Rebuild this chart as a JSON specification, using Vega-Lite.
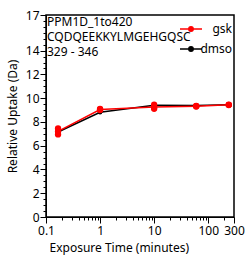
{
  "$schema": "https://vega.github.io/schema/vega-lite/v6.json",
  "autosize": {"type": "none"},
  "width": 188,
  "height": 202,
  "padding": {"left": 46, "top": 15, "right": 11, "bottom": 38},
  "background": "white",
  "config": {
    "font": "Noto Sans",
    "view": {"stroke": "black", "strokeWidth": 1.5},
    "axis": {"labelFont": "Noto Sans", "titleFont": "Noto Sans", "labelFontSize": 12, "titleFontSize": 12, "titleFontWeight": "normal", "labelColor": "black", "titleColor": "black", "tickColor": "black", "domainColor": "black", "grid": false}
  },
  "title": {
    "text": ["PPM1D_1to420", "CQDQEEKKYLMGEHGQSC", "329 - 346"],
    "anchor": "start",
    "orient": "top",
    "frame": "group",
    "offset": -50,
    "dx": 1,
    "fontSize": 12,
    "fontWeight": "normal",
    "font": "Noto Sans",
    "color": "black",
    "lineHeight": 15
  },
  "data": {
    "values": [
      {"time": 0.167, "series": "dmso", "uptake": 7.15},
      {"time": 1, "series": "dmso", "uptake": 8.82},
      {"time": 10, "series": "dmso", "uptake": 9.4},
      {"time": 60, "series": "dmso", "uptake": 9.38},
      {"time": 240, "series": "dmso", "uptake": 9.45},
      {"time": 0.167, "series": "gsk", "uptake": 7.45},
      {"time": 0.167, "series": "gsk", "uptake": 6.95},
      {"time": 0.167, "series": "gsk", "uptake": 7.2},
      {"time": 1, "series": "gsk", "uptake": 9.0},
      {"time": 1, "series": "gsk", "uptake": 9.1},
      {"time": 1, "series": "gsk", "uptake": 9.05},
      {"time": 10, "series": "gsk", "uptake": 9.45},
      {"time": 10, "series": "gsk", "uptake": 9.1},
      {"time": 10, "series": "gsk", "uptake": 9.2},
      {"time": 60, "series": "gsk", "uptake": 9.35},
      {"time": 60, "series": "gsk", "uptake": 9.3},
      {"time": 60, "series": "gsk", "uptake": 9.33},
      {"time": 240, "series": "gsk", "uptake": 9.45},
      {"time": 240, "series": "gsk", "uptake": 9.42},
      {"time": 240, "series": "gsk", "uptake": 9.44}
    ]
  },
  "encoding": {
    "x": {
      "field": "time", "type": "quantitative",
      "scale": {"type": "log", "domain": [0.1, 300], "nice": false},
      "axis": {
        "title": "Exposure Time (minutes)",
        "values": [0.1, 0.2, 0.3, 0.4, 0.5, 0.6, 0.7, 0.8, 0.9, 1, 2, 3, 4, 5, 6, 7, 8, 9, 10, 20, 30, 40, 50, 60, 70, 80, 90, 100, 200, 300],
        "labelExpr": "indexof([0.1, 1, 10, 100, 300], datum.value) >= 0 ? datum.label : ''",
        "format": "~g",
        "labelOverlap": false,
        "labelFlush": false,
        "tickSize": {"condition": {"test": "indexof([0.1, 1, 10, 100, 300], datum.value) >= 0", "value": 6}, "value": 3},
        "labelPadding": 2,
        "titlePadding": 6,
        "titleAnchor": "start",
        "titleX": 3
      }
    },
    "y": {
      "field": "uptake", "type": "quantitative",
      "scale": {"domain": [0, 17], "nice": false, "zero": false},
      "axis": {
        "title": "Relative Uptake (Da)",
        "values": [0, 0.5, 1, 1.5, 2, 2.5, 3, 3.5, 4, 4.5, 5, 5.5, 6, 6.5, 7, 7.5, 8, 8.5, 9, 9.5, 10, 10.5, 11, 11.5, 12, 12.5, 13, 13.5, 14, 14.5, 15, 15.5, 16, 16.5, 17],
        "format": "~g",
        "labelExpr": "indexof([0, 2, 4, 6, 8, 10, 12, 14, 17], datum.value) >= 0 ? datum.label : ''",
        "labelOverlap": false,
        "labelFlush": false,
        "tickSize": {"condition": {"test": "indexof([0, 2, 4, 6, 8, 10, 12, 14, 17], datum.value) >= 0", "value": 6}, "value": 3},
        "labelPadding": 1,
        "titlePadding": 6
      }
    },
    "color": {
      "field": "series", "type": "nominal",
      "scale": {"domain": ["gsk", "dmso"], "range": ["#ff0000", "#000000"]},
      "legend": {
        "title": null,
        "orient": "top-right",
        "offset": 2,
        "labelFontSize": 12,
        "labelFont": "Noto Sans",
        "labelColor": "black",
        "labelAlign": "right",
        "symbolType": "M-1,0L1,0M0.2,0A0.2,0.2 0 1 1 -0.2,0A0.2,0.2 0 1 1 0.2,0Z",
        "symbolSize": 484,
        "symbolStrokeWidth": 1.5,
        "rowPadding": 2,
        "labelOffset": 29,
        "encode": {
          "symbols": {
            "update": {
              "fill": {"scale": "color", "field": "value"},
              "stroke": {"scale": "color", "field": "value"},
              "opacity": {"value": 1}
            }
          }
        }
      }
    }
  },
  "layer": [
    {
      "mark": {"type": "line", "strokeWidth": 1.5},
      "encoding": {
        "y": {"aggregate": "mean", "field": "uptake", "type": "quantitative"},
        "order": {"field": "time", "type": "quantitative"}
      }
    },
    {
      "mark": {"type": "point", "filled": true, "opacity": 1},
      "encoding": {
        "size": {"condition": {"test": "datum.series === 'gsk'", "value": 40}, "value": 20}
      }
    }
  ]
}
